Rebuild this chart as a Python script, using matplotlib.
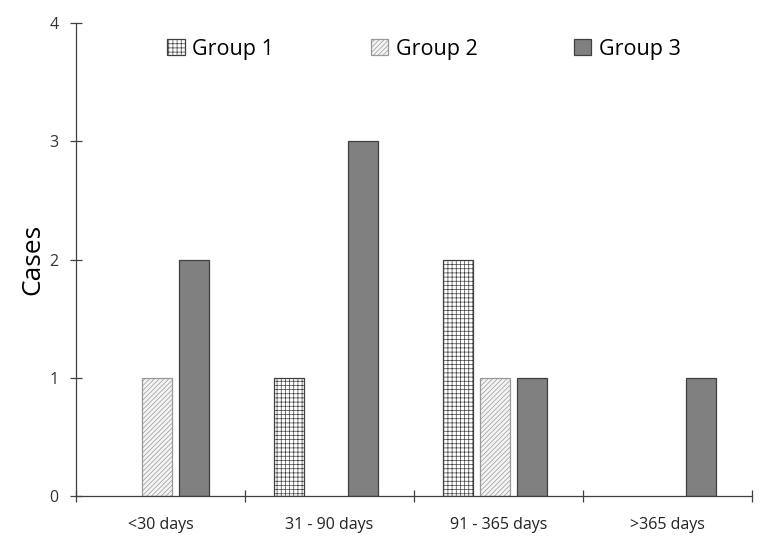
import numpy as np
import matplotlib.pyplot as plt

plt.rcParams['font.family'] = ['Open Sans', 'DejaVu Sans']
plt.rcParams['hatch.linewidth'] = 0.5

categories = ['<30 days', '31 - 90 days', '91 - 365 days', '>365 days']
group_names = ['Group 1', 'Group 2', 'Group 3']
group1 = [0, 1, 2, 0]
group2 = [1, 0, 1, 0]
group3 = [2, 3, 1, 1]

fig = plt.figure(figsize=(7.63, 5.48), dpi=100)
ax = fig.add_axes([0.0996, 0.0949, 0.886, 0.863])

x = np.arange(len(categories)) + 0.5
width = 0.175
offset = 0.218

styles = [
    dict(facecolor='white', hatch='++++', edgecolor='#404040'),
    dict(facecolor='#f4f4f4', hatch='///////', edgecolor='#999999'),
    dict(facecolor='#808080', hatch=None, edgecolor='#404040'),
]
for i, (vals, name, st) in enumerate(zip([group1, group2, group3], group_names, styles)):
    vals = np.array(vals, dtype=float)
    mask = vals > 0
    ax.bar(x[mask] + (i - 1) * offset - 0.02, vals[mask], width, label=name,
           facecolor=st['facecolor'], hatch=st['hatch'],
           edgecolor=st['edgecolor'], linewidth=0.9)

ax.set_xlim(0, 4)
ax.set_ylim(0, 4)
ax.set_yticks([0, 1, 2, 3, 4])
ax.set_xticks([0, 1, 2, 3, 4])
ax.set_xticklabels([])
ax.set_xticks(x, minor=True)
ax.set_xticklabels(categories, minor=True, fontsize=11.5, color='#222222')
ax.tick_params(axis='x', which='minor', length=0, pad=15)
ax.tick_params(axis='x', which='major', direction='inout', length=9, width=0.9, color='#404040')
ax.tick_params(axis='y', direction='inout', length=9, width=0.9, color='#404040',
               labelsize=11.5, labelcolor='#333333', pad=8)

for s in ['top', 'right']:
    ax.spines[s].set_visible(False)
for s in ['left', 'bottom']:
    ax.spines[s].set_color('#404040')
    ax.spines[s].set_linewidth(0.9)

ax.set_ylabel('Cases', fontsize=19, labelpad=3)

ax.legend(loc='center', bbox_to_anchor=(0.515, 0.945), ncol=3, frameon=False,
          fontsize=15.5, handlelength=0.8, handleheight=0.8, handletextpad=0.35,
          columnspacing=4.5)

fig.savefig('out.png', dpi=100)
